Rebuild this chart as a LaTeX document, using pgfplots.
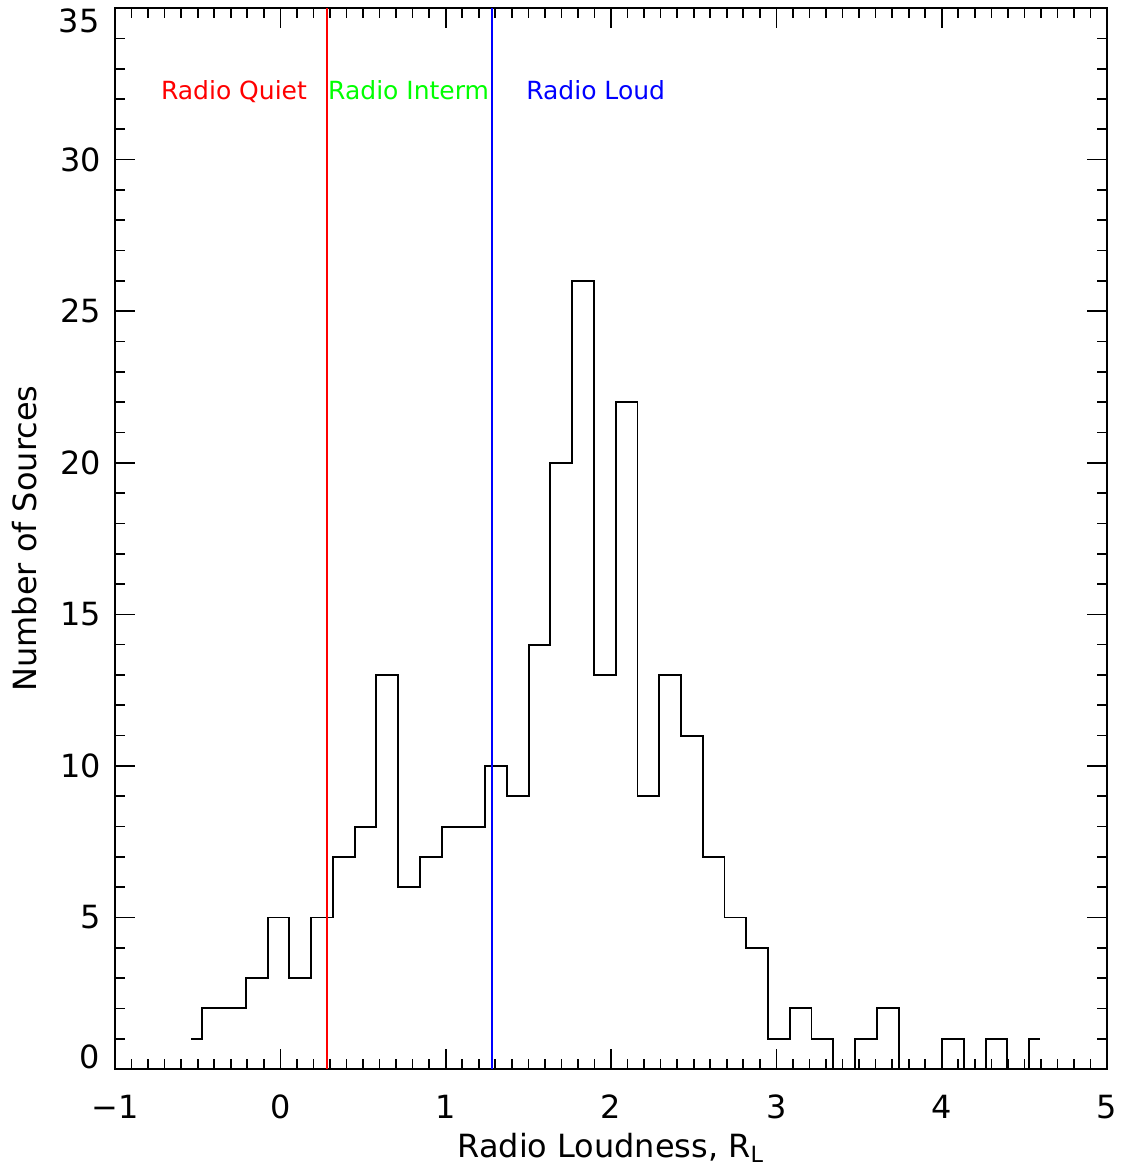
\documentclass[border=0pt]{standalone}
\usepackage{fontspec}
\setmainfont{DejaVu Sans}
\usepackage{pgfplots}
\pgfplotsset{compat=1.18}
\begin{document}
\begin{tikzpicture}
\begin{axis}[
  name=ax,
  scale only axis, width=357.1pt, height=381.9pt,
  xmin=-1, xmax=5, ymin=0, ymax=35,
  axis line style={line width=0.7pt},
  tick style={line width=0.6pt, black},
  tick align=inside,
  major tick length=7.2pt, minor tick length=3.6pt,
  xtick={-1,0,...,5}, xticklabels={−1,0,1,2,3,4,5},
  minor x tick num=9,
  ytick={0,5,...,35}, yticklabels={,5,10,15,20,25,30,},
  minor y tick num=4,
  ticklabel style={font=\fontsize{11.5}{13}\selectfont},
  xticklabel style={yshift=-5.9pt},
  yticklabel style={xshift=-1.6pt},
  every axis x label/.style={at={(axis description cs:0.5,0)}, anchor=base, yshift=-32pt, inner sep=0pt, font=\fontsize{11.5}{13}\selectfont},
  every axis y label/.style={at={(axis description cs:0,0.5)}, xshift=-28pt, rotate=90, anchor=south, inner sep=0pt, font=\fontsize{11.5}{13}\selectfont},
  xlabel={Radio Loudness, R\textsubscript{L}},
  ylabel={Number of Sources},
]
\addplot[black, line width=0.7pt, const plot mark mid] coordinates {
(-0.538,1) (-0.406,2) (-0.275,2) (-0.143,3) (-0.012,5) (0.120,3) (0.252,5) (0.383,7)
(0.515,8) (0.646,13) (0.778,6) (0.910,7) (1.041,8) (1.173,8) (1.304,10) (1.436,9)
(1.568,14) (1.699,20) (1.831,26) (1.962,13) (2.094,22) (2.226,9) (2.357,13) (2.489,11)
(2.620,7) (2.752,5) (2.884,4) (3.015,1) (3.147,2) (3.278,1) (3.410,0) (3.542,1)
(3.673,2) (3.805,0) (3.936,0) (4.068,1) (4.200,0) (4.331,1) (4.463,0) (4.594,1)
};
\addplot[red, line width=0.7pt] coordinates {(0.28,0) (0.28,35)};
\addplot[blue, line width=0.7pt] coordinates {(1.28,0) (1.28,35)};
\node[anchor=base west, inner sep=0pt, text=red, font=\fontsize{9}{10}\selectfont] at (axis cs:-0.725,32) {Radio Quiet};
\node[anchor=base west, inner sep=0pt, text={rgb,255:red,0;green,255;blue,0}, font=\fontsize{9}{10}\selectfont] at (axis cs:0.286,32) {Radio Interm};
\node[anchor=base west, inner sep=0pt, text=blue, font=\fontsize{9}{10}\selectfont] at (axis cs:1.484,32) {Radio Loud};
\end{axis}
\node[anchor=south east, inner sep=0pt, font=\fontsize{11.5}{13}\selectfont] at (-5.4pt,0pt) {0};
\node[anchor=north east, inner sep=0pt, font=\fontsize{11.5}{13}\selectfont] at (-5.4pt,381.9pt) {35};
\pgfresetboundingbox
\useasboundingbox (-41.4pt,-36.7pt) rectangle (363.6pt,384.8pt);
\end{tikzpicture}
\end{document}
